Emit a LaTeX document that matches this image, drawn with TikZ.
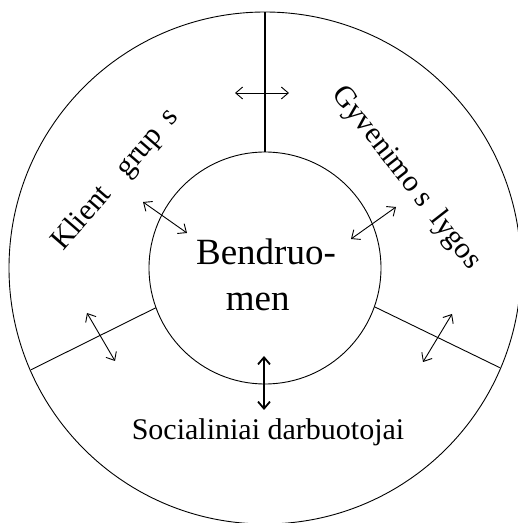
\documentclass[tikz,border=0pt]{standalone}
\usepackage{fontspec}
\setmainfont{Liberation Serif}
\usepackage{tikz}
\usetikzlibrary{arrows.meta,calc}

\begin{document}
\begin{tikzpicture}[x=1pt, y=1pt, line width=0.9pt]
\tikzstyle{lbl}=[inner sep=0pt, font=\fontsize{30}{34}\selectfont]
\tikzstyle{twoway}=[{Straight Barb[length=7pt,width=12pt]}-{Straight Barb[length=7pt,width=12pt]}]
\useasboundingbox (0,0) rectangle (518,523);

\coordinate (c) at (265,255);
\draw (c) circle (256);
\draw (c) circle (116);

% spokes between the rings
\draw[line width=1.8pt] ($(c)+(90:116)$) -- ($(c)+(90:256)$);
\draw ($(c)+(200:116)$) -- ($(c)+(203.5:255)$);
\draw ($(c)+(-19.5:116)$) -- ($(c)+(-23:255)$);

\node[inner sep=0pt, align=center, font=\fontsize{37}{46}\selectfont] (core) at (266,248) {Bendruo-\\men\phantom{ė}};
\node[lbl, rotate=49] (clients) at (116,343) {Klient\phantom{ų} grup\phantom{ė}s};
\node[lbl, rotate=-52] (life) at (406,345) {Gyvenimo s\phantom{ą}lygos};
\node[lbl, anchor=base] (workers) at (268,83) {Socialiniai darbuotojai};

\coordinate (t1) at (235,430); \coordinate (t2) at (289,430);
\coordinate (lu1) at (143,321); \coordinate (lu2) at (187,290);
\coordinate (ru1) at (396,316); \coordinate (ru2) at (351,284);
\coordinate (ll1) at (87,210); \coordinate (ll2) at (115,162);
\coordinate (rl1) at (452,209); \coordinate (rl2) at (423,161);
\coordinate (b1) at (264,167); \coordinate (b2) at (264,113);

\draw[twoway] (t1) -- (t2);
\draw[twoway] (lu1) -- (lu2);
\draw[twoway] (ru1) -- (ru2);
\draw[twoway] (ll1) -- (ll2);
\draw[twoway] (rl1) -- (rl2);
\draw[twoway, line width=1.8pt] (b1) -- (b2);
\end{tikzpicture}
\end{document}
